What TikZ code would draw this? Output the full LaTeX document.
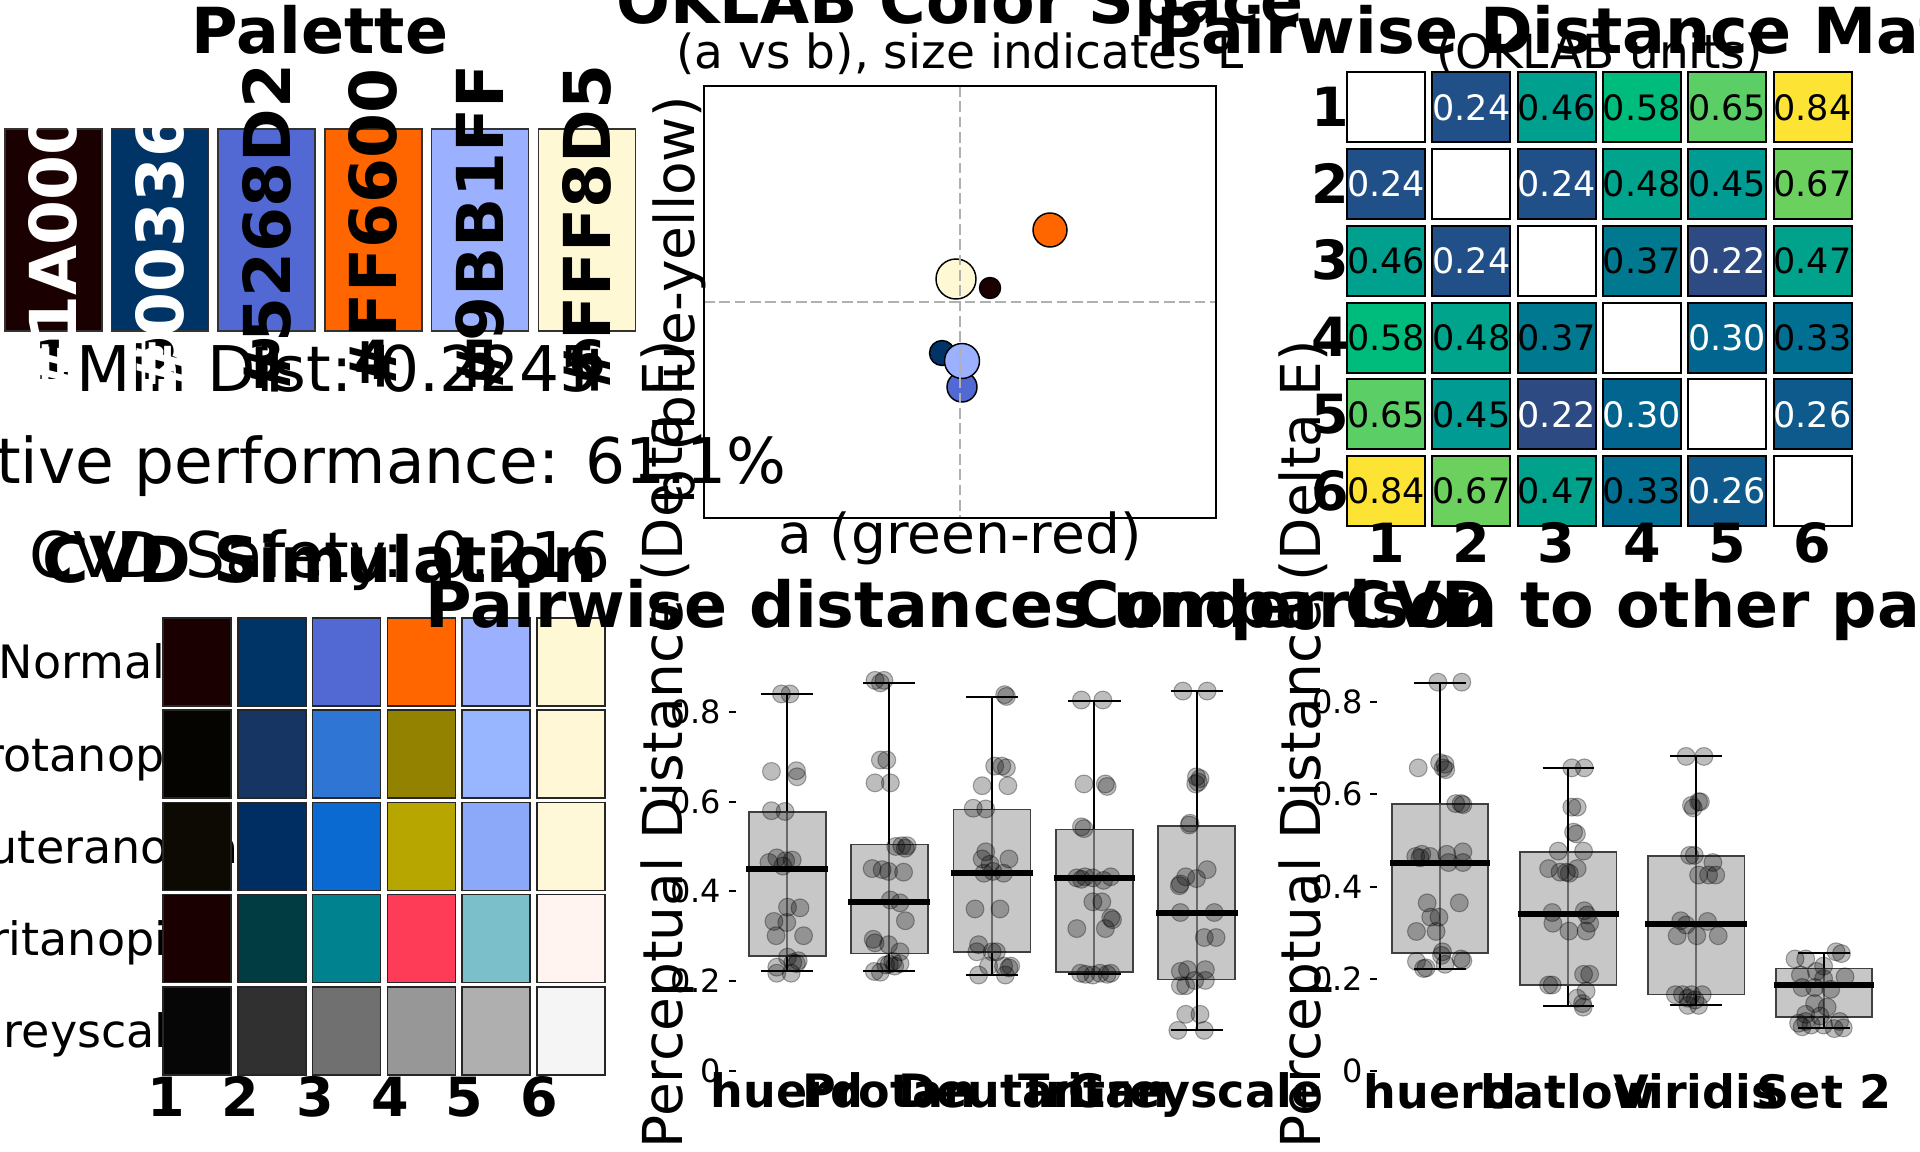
\documentclass[tikz,border=0pt]{standalone}
\usepackage{fontspec}
\setmainfont{DejaVu Sans}
\definecolor{p1}{HTML}{1A0000}\definecolor{p2}{HTML}{003366}\definecolor{p3}{HTML}{5268D2}
\definecolor{p4}{HTML}{FF6600}\definecolor{p5}{HTML}{9BB1FF}\definecolor{p6}{HTML}{FFF8D5}
\definecolor{cv11}{HTML}{1A0000}\definecolor{cv12}{HTML}{003366}\definecolor{cv13}{HTML}{5268D2}
\definecolor{cv14}{HTML}{FF6600}\definecolor{cv15}{HTML}{9BB1FF}\definecolor{cv16}{HTML}{FFF8D5}
\definecolor{cv21}{HTML}{050400}\definecolor{cv22}{HTML}{173563}\definecolor{cv23}{HTML}{2E75D4}
\definecolor{cv24}{HTML}{938200}\definecolor{cv25}{HTML}{98B5FF}\definecolor{cv26}{HTML}{FFF7D6}
\definecolor{cv31}{HTML}{0D0A03}\definecolor{cv32}{HTML}{002D62}\definecolor{cv33}{HTML}{0B6AD2}
\definecolor{cv34}{HTML}{B7A500}\definecolor{cv35}{HTML}{8CA8F8}\definecolor{cv36}{HTML}{FFF8D8}
\definecolor{cv41}{HTML}{1A0000}\definecolor{cv42}{HTML}{013C43}\definecolor{cv43}{HTML}{00838F}
\definecolor{cv44}{HTML}{FF3C58}\definecolor{cv45}{HTML}{7ABFC9}\definecolor{cv46}{HTML}{FFF4F0}
\definecolor{cv51}{HTML}{060606}\definecolor{cv52}{HTML}{303030}\definecolor{cv53}{HTML}{707070}
\definecolor{cv54}{HTML}{979797}\definecolor{cv55}{HTML}{AFAFAF}\definecolor{cv56}{HTML}{F5F5F5}
\definecolor{h22}{HTML}{2D4A82}\definecolor{h24}{HTML}{214F88}\definecolor{h26}{HTML}{0E5A8C}
\definecolor{h30}{HTML}{02658F}\definecolor{h33}{HTML}{006F91}\definecolor{h37}{HTML}{00788F}
\definecolor{h45}{HTML}{009B93}\definecolor{h46}{HTML}{00A08F}\definecolor{h47}{HTML}{00A28C}
\definecolor{h48}{HTML}{00A38B}\definecolor{h58}{HTML}{00BC7C}\definecolor{h65}{HTML}{5CCE66}
\definecolor{h67}{HTML}{6BD05E}\definecolor{h84}{HTML}{FDE333}
\definecolor{gridgray}{HTML}{B0B0B0}
\newcommand\fTitle{\fontsize{47.6pt}{50pt}\selectfont\bfseries}
\newcommand\fBig{\fontsize{47.25pt}{50pt}\selectfont}
\newcommand\fSub{\fontsize{35.25pt}{37pt}\selectfont}
\newcommand\fAx{\fontsize{41.25pt}{43pt}\selectfont}
\newcommand\fTickB{\fontsize{40.5pt}{42pt}\selectfont\bfseries}
\newcommand\fHex{\fontsize{48.5pt}{50pt}\selectfont\bfseries}
\newcommand\fRow{\fontsize{34.5pt}{36pt}\selectfont}
\newcommand\fCell{\fontsize{26.25pt}{28pt}\selectfont}
\newcommand\fTick{\fontsize{24pt}{26pt}\selectfont}
\newcommand\fXlab{\fontsize{34.5pt}{36pt}\selectfont\bfseries}
\newcommand\myboxp[8]{%
 \draw[whisk] ({(#1+#2)/2},#6) -- ({(#1+#2)/2},#7);
 \draw[whisk] ({(#1+#2)/2-#8},#6) -- ({(#1+#2)/2+#8},#6);
 \draw[whisk] ({(#1+#2)/2-#8},#7) -- ({(#1+#2)/2+#8},#7);
 \draw[boxst] (#1,#3) rectangle (#2,#4);
 \draw[med] (#1-7,#5) -- (#2+7,#5);
}
\begin{document}
\begin{tikzpicture}[x=0.75pt,y=-0.75pt,
  every node/.style={inner sep=0pt,outer sep=0pt},
  palbox/.style={draw=black!80,line width=1.1pt,minimum width=72.75pt,minimum height=151.5pt},
  hexlab/.style={font=\fHex,rotate=90},
  cvdcell/.style={draw=black!85,line width=1.1pt,minimum width=51pt,minimum height=66pt},
  hmcell/.style={draw=black,line width=1.5pt,minimum width=58.5pt,minimum height=52.5pt,font=\fCell},
  ptk/.style={draw=black,line width=1.1pt},
  gridd/.style={draw=gridgray,line width=1.1pt,dash pattern=on 8pt off 3.5pt},
  whisk/.style={draw=black,line width=1.5pt},
  boxst/.style={fill=black!34,fill opacity=0.64,draw=black!75,line width=1.2pt},
  med/.style={draw=black,line width=4.5pt},
  jit/.style={fill=black,fill opacity=0.26,draw=black,draw opacity=0.32,line width=0.8pt},
  tickm/.style={draw=black,line width=0.9pt}]
\useasboundingbox (0,0) rectangle (1920,1152);
\fill[white] (0,0) rectangle (1920,1152);
\clip (0,0) rectangle (1920,1152);

% ---------------- Palette ----------------
\node[font=\fTitle,anchor=base] (paltitle) at (320,53.6) {Palette};
\foreach \i/\cx in {1/53.3,2/160,3/266.7,4/373.4,5/480.1,6/586.8}{
  \node[palbox,fill=p\i] (pal\i) at (\cx,230) {};
  \node[font=\fTickB,anchor=base] (paltick\i) at (\cx,379) {\i};
}
\node[font=\fBig,anchor=base west] (mindist) at (76,391.7) {Min Dist: 0.2245};
\node[font=\fBig,anchor=base east] (relperf) at (786,483) {Relative performance: 61.1\%};
\node[font=\fBig,anchor=base] (cvdsafe) at (320,577) {CVD Safety: 0.216};
\node[hexlab,text=white] (hex1) at (53.3,230) {\#1A0000};
\node[hexlab,text=white] (hex2) at (160,230) {\#003366};
\node[hexlab,text=black] (hex3) at (266.7,230) {\#5268D2};
\node[hexlab,text=black] (hex4) at (373.4,230) {\#FF6600};
\node[hexlab,text=black] (hex5) at (480.1,230) {\#9BB1FF};
\node[hexlab,text=black] (hex6) at (586.8,230) {\#FFF8D5};

% ---------------- OKLAB ----------------
\node[font=\fTitle,anchor=base] (oktitle) at (960,24) {OKLAB Color Space};
\node[font=\fSub,anchor=base] (oksub) at (960,69) {(a vs b), size indicates L};
\draw[ptk,fill=p1] (990,288) circle (10.5);
\draw[ptk,fill=p2] (942,353) circle (12.5);
\draw[ptk,fill=p3] (962,387) circle (15);
\draw[ptk,fill=p4] (1050,230) circle (17);
\draw[ptk,fill=p5] (962,361) circle (17.5);
\draw[ptk,fill=p6] (956,279) circle (20);
\draw[gridd] (960,86) -- (960,518);
\draw[gridd] (704,302) -- (1216,302);
\draw[line width=1.1pt] (704,86) rectangle (1216,518);
\node[font=\fAx,anchor=base] (okx) at (960,553) {a (green-red)};
\node[font=\fAx,rotate=90,anchor=base] (oky) at (694,300) {b (blue-yellow)};

% ---------------- Heatmap ----------------
\node[font=\fTitle,anchor=base] (hmtitle) at (1600,53.6) {Pairwise Distance Matrix};
\node[font=\fSub,anchor=base] (hmsub) at (1600,69) {(OKLAB units)};
\foreach \r/\c/\v/\cn/\tc in {
 1/2/0.24/h24/white,1/3/0.46/h46/black,1/4/0.58/h58/black,1/5/0.65/h65/black,1/6/0.84/h84/black,
 2/1/0.24/h24/white,2/3/0.24/h24/white,2/4/0.48/h48/black,2/5/0.45/h45/black,2/6/0.67/h67/black,
 3/1/0.46/h46/black,3/2/0.24/h24/white,3/4/0.37/h37/black,3/5/0.22/h22/white,3/6/0.47/h47/black,
 4/1/0.58/h58/black,4/2/0.48/h48/black,4/3/0.37/h37/black,4/5/0.30/h30/white,4/6/0.33/h33/black,
 5/1/0.65/h65/black,5/2/0.45/h45/black,5/3/0.22/h22/white,5/4/0.30/h30/white,5/6/0.26/h26/white,
 6/1/0.84/h84/black,6/2/0.67/h67/black,6/3/0.47/h47/black,6/4/0.33/h33/black,6/5/0.26/h26/white}{
  \node[hmcell,fill=\cn,text=\tc] (hm\r\c) at ({1386+85.3*(\c-1)},{107.5+76.7*(\r-1)}) {\v};
}
\foreach \d in {1,...,6}{
  \node[hmcell,fill=white] (hm\d\d) at ({1386+85.3*(\d-1)},{107.5+76.7*(\d-1)}) {};
  \node[font=\fTickB,anchor=base east] (hmrow\d) at (1349,{126.5+76.7*(\d-1)}) {\d};
  \node[font=\fTickB,anchor=base] (hmcol\d) at ({1386+85.3*(\d-1)},562) {\d};
}

% ---------------- CVD simulation ----------------
\node[font=\fTitle,anchor=base] (cvdtitle) at (320,582) {CVD Simulation};
\foreach \r/\t in {1/Normal,2/Protanopia,3/Deuteranopia,4/Tritanopia,5/Greyscale}{
  \node[font=\fRow,anchor=base] (cvdrow\r) at (82,{678.8+92.2*(\r-1)}) {\t};
}
\foreach \r in {1,...,5}{
  \foreach \c in {1,...,6}{
    \node[cvdcell,fill=cv\r\c] (cvd\r\c) at ({197+74.8*(\c-1)},{662+92.2*(\r-1)}) {};
  }
}
\foreach \c in {1,...,6}{
  \node[font=\fTickB,anchor=base] (cvdcol\c) at ({166+74.6*(\c-1)},1116) {\c};
}

% ---------------- Boxplot 1 ----------------
\node[font=\fTitle,anchor=base] (b1title) at (960,627) {Pairwise distances under CVD};
\node[font=\fAx,rotate=90,anchor=base] (b1y) at (682,744) {Perceptual Distance (Delta E)};
\foreach \v/\yy in {0/1071,0.2/981,0.4/891,0.6/802,0.8/712}{
  \node[font=\fTick,anchor=base east] (b1t\yy) at (721,{\yy+11.7}) {\v};
  \draw[tickm] (729,\yy) -- (736,\yy);
}
\begin{scope}[shift={(700,600)},scale=0.357143]
\myboxp{137}{352}{593}{997}{752}{263}{1040}{73}
\myboxp{422}{638}{685}{990}{845}{231}{1040}{73}
\myboxp{710}{925}{587}{985}{765}{272}{1050}{73}
\myboxp{997}{1212}{643}{1042}{778}{282}{1047}{73}
\myboxp{1283}{1498}{632}{1062}{875}{255}{1205}{73}
\foreach \x/\y in {228/263,252/263,200/480,270/478,272/495,200/590,238/592,193/735,215/722,240/730,258/728,232/745,245/860,280/862,207/900,243/903,213/940,290/940,245/1000,260/1015,270/1018,215/1028,255/1045,215/1045,275/1010,
490/225,505/232,515/225,505/448,523/448,490/512,533/512,548/690,565/688,580/688,575/695,482/752,510/755,528/760,570/762,533/840,560/848,575/898,485/950,490/960,528/965,560/985,520/1022,545/1025,560/1018,540/1012,488/1040,505/1042,530/1020,
853/265,858/270,825/465,845/465,858/470,790/520,862/520,765/583,800/585,800/705,790/725,812/740,865/725,820/760,850/765,795/765,770/865,840/865,780/965,775/985,818/985,830/985,808/1025,850/1025,870/1025,865/1030,780/1050,855/1050,
1068/280,1128/280,1075/515,1135/515,1140/522,1075/640,1068/635,1055/778,1078/775,1100/778,1150/775,1068/782,1130/785,1100/845,1125/845,1055/920,1135/920,1150/890,1155/895,1065/1045,1080/1048,1100/1050,1140/1048,1150/1045,1120/1045,
1352/255,1420/255,1390/495,1395/510,1400/500,1388/515,1370/630,1372/625,1420/755,1360/775,1390/780,1345/795,1342/800,1345/875,1440/875,1412/945,1445/945,1345/1040,1365/1035,1415/1035,1345/1080,1360/1080,1385/1065,1415/1065,1360/1160,1400/1160,1338/1205,1412/1205}{
  \filldraw[jit] (\x,\y) circle (25);
}
\end{scope}
\foreach \i/\cx/\t in {1/787/huerd,2/889/Protan,3/992/Deutan,4/1094/Tritan,5/1196/Greyscale}{
  \node[font=\fXlab,anchor=base] (b1x\i) at (\cx,1107) {\t};
}

% ---------------- Boxplot 2 ----------------
\node[font=\fTitle,anchor=base] (b2title) at (1600,627) {Comparison to other palettes};
\node[font=\fAx,rotate=90,anchor=base] (b2y) at (1320,744) {Perceptual Distance (Delta E)};
\foreach \v/\yy in {0/1071,0.2/979,0.4/887,0.6/794,0.8/702}{
  \node[font=\fTick,anchor=base east] (b2t\yy) at (1363,{\yy+11.7}) {\v};
  \draw[tickm] (1370,\yy) -- (1377,\yy);
}
\begin{scope}[shift={(1320,600)},scale=0.357143]
\myboxp{202}{470}{572}{988}{736}{231}{1032}{72}
\myboxp{560}{830}{705}{1078}{878}{470}{1137}{72}
\myboxp{918}{1188}{717}{1105}{908}{438}{1133}{72}
\myboxp{1277}{1545}{1032}{1168}{1078}{988}{1198}{72}
\foreach \x/\y in {330/230,397/230,275/470,335/455,350/460,345/470,352/475,380/570,395/570,400/573,285/712,268/718,308/718,280/722,355/712,400/705,400/735,360/735,300/848,390/848,310/888,333/888,270/928,325/928,343/985,340/995,270/1012,395/1005,400/1010,290/1032,297/1030,350/1020,
705/470,740/470,705/580,720/580,710/650,718/655,667/703,738/703,640/752,672/762,690/762,698/765,720/752,650/875,740/870,748/882,755/905,652/905,697/927,745/927,738/1048,755/1048,640/1078,650/1078,745/1095,720/1115,735/1130,737/1140,
1025/438,1075/438,1040/575,1045/582,1060/565,1065/565,1035/715,1048/715,1100/735,1088/770,1060/770,1108/770,1010/898,1025/910,1085/900,1055/940,1000/940,1115/940,995/1105,1015/1105,1030/1115,1050/1120,1070/1105,1030/1135,1060/1135,1040/1105,
1330/1005,1360/1005,1445/985,1460/990,1410/1025,1390/1040,1345/1050,1470/1055,1410/1060,1350/1085,1385/1085,1430/1090,1385/1130,1420/1140,1360/1160,1400/1165,1340/1185,1375/1190,1455/1180,1465/1198,1440/1200,1350/1195,1410/1190,1360/1180}{
  \filldraw[jit] (\x,\y) circle (25);
}
\end{scope}
\foreach \i/\cx/\t in {1/1440/huerd,2/1568/batlow,3/1696/Viridis,4/1824/Set 2}{
  \node[font=\fXlab,anchor=base] (b2x\i) at (\cx,1108) {\t};
}
\end{tikzpicture}
\end{document}
